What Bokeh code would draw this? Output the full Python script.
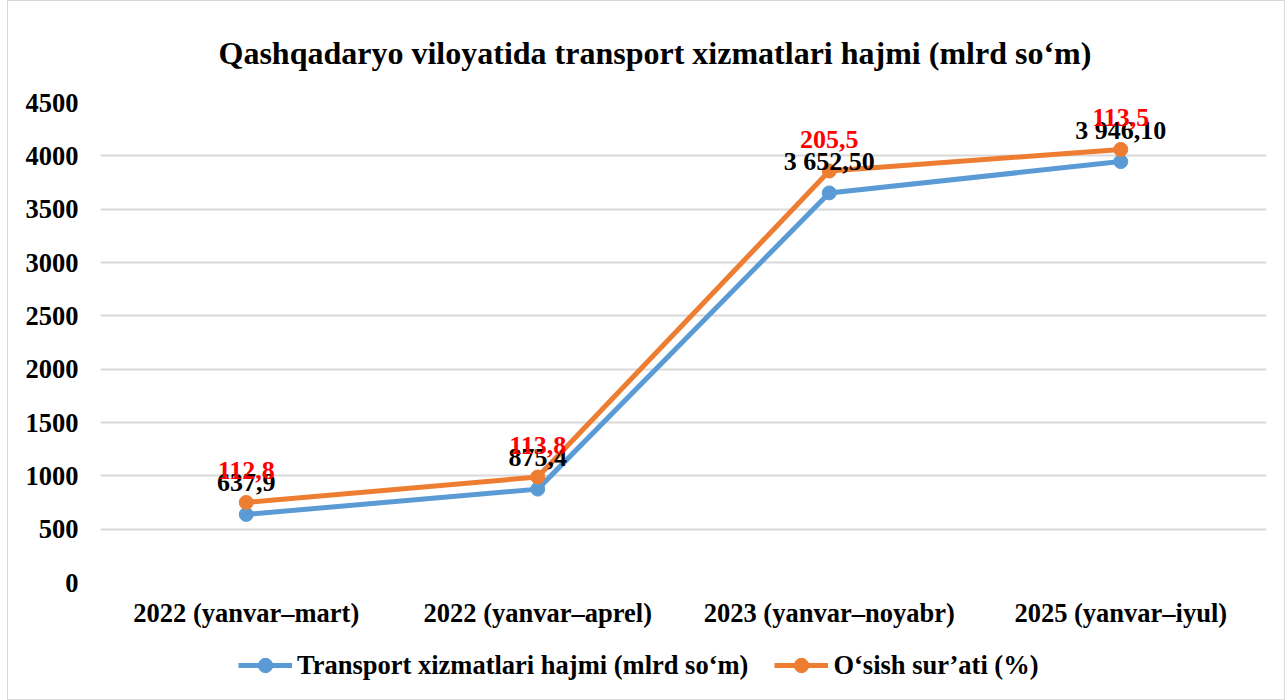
from bokeh.plotting import figure
from bokeh.layouts import column
from bokeh.models import ColumnDataSource, LabelSet, Legend, LegendItem, Range1d, FactorRange, SingleIntervalTicker, Title
from bokeh.embed import file_html
from bokeh.resources import INLINE

categories = ["2022 (yanvar–mart)", "2022 (yanvar–aprel)", "2023 (yanvar–noyabr)", "2025 (yanvar–iyul)"]
transport = [637.9, 875.4, 3652.5, 3946.1]
growth = [112.8, 113.8, 205.5, 113.5]
transport_labels = ["637,9", "875,4", "3 652,50", "3 946,10"]
growth_labels = ["112,8", "113,8", "205,5", "113,5"]
series_names = ["Transport xizmatlari hajmi (mlrd so‘m)", "O‘sish sur’ati (%)"]

# stacked line chart: second series drawn on top of the first
stacked = [t + g for t, g in zip(transport, growth)]

FONT = "Liberation Serif"
BLUE = "#5b9bd5"
ORANGE = "#ed7d31"
W = 1276

src = ColumnDataSource(dict(x=categories, t=transport, s=stacked, tl=transport_labels, gl=growth_labels))

p = figure(width=W, height=629, x_range=FactorRange(*categories),
           y_range=Range1d(0, 4500), output_backend="svg", toolbar_location=None,
           min_border_left=92, min_border_right=18, min_border_top=101, min_border_bottom=48)
p.x_range.factor_padding = 0
p.x_range.range_padding = 0

t = Title(text="Qashqadaryo viloyatida transport xizmatlari hajmi (mlrd so‘m)", align="left", offset=118,
          text_font=FONT, text_font_size="32px", text_font_style="bold", text_color="#000000",
          standoff=63)
p.add_layout(t, "above")

p.outline_line_color = None
p.xgrid.grid_line_color = None
p.ygrid.grid_line_color = "#d9d9d9"
p.ygrid.grid_line_width = 2
p.yaxis.ticker = SingleIntervalTicker(interval=500)
for ax in (p.xaxis, p.yaxis):
    ax.axis_line_color = None
    ax.major_tick_line_color = None
    ax.minor_tick_line_color = None
    ax.major_tick_out = 0
    ax.major_tick_in = 0
    ax.minor_tick_out = 0
    ax.major_label_text_font = FONT
    ax.major_label_text_font_size = "26.5px"
    ax.major_label_text_font_style = "bold"
    ax.major_label_text_color = "#000000"
p.yaxis.major_label_standoff = 22
p.xaxis.major_label_standoff = 15

p.line("x", "t", source=src, line_color=BLUE, line_width=5)
p.scatter("x", "t", source=src, size=14, fill_color=BLUE, line_color=BLUE)
p.line("x", "s", source=src, line_color=ORANGE, line_width=5)
p.scatter("x", "s", source=src, size=14, fill_color=ORANGE, line_color=ORANGE)

lab1 = LabelSet(x="x", y="t", text="tl", source=src, text_align="center", text_baseline="alphabetic",
                y_offset=23, text_font=FONT, text_font_size="26px", text_font_style="bold", text_color="#000000")
lab2 = LabelSet(x="x", y="s", text="gl", source=src, text_align="center", text_baseline="alphabetic",
                y_offset=23, text_font=FONT, text_font_size="26px", text_font_style="bold", text_color="#ff0000")
p.add_layout(lab1)
p.add_layout(lab2)

# legend strip below the chart (its lines lie outside its visible range; only the legend shows)
lg = figure(width=W, height=69, x_range=FactorRange(*categories), y_range=Range1d(-2, -1),
            output_backend="svg", toolbar_location=None, min_border=0,
            x_axis_location=None, y_axis_location=None)
lg.grid.visible = False
lg.outline_line_color = None
r1 = lg.line("x", "t", source=src, line_color=BLUE, line_width=5)
m1 = lg.scatter("x", "t", source=src, fill_color=BLUE, line_color=BLUE)
r2 = lg.line("x", "s", source=src, line_color=ORANGE, line_width=5)
m2 = lg.scatter("x", "s", source=src, fill_color=ORANGE, line_color=ORANGE)
legend = Legend(items=[LegendItem(label=series_names[0], renderers=[r1, m1]),
                       LegendItem(label=series_names[1], renderers=[r2, m2])],
                orientation="horizontal", location=(138, 16), border_line_color=None,
                background_fill_alpha=0,
                label_text_font=FONT, label_text_font_size="26.5px", label_text_font_style="bold",
                label_text_color="#000000", glyph_width=54, glyph_height=36, label_standoff=5,
                spacing=26, margin=0, padding=0)
lg.add_layout(legend)

layout = column(p, lg, spacing=0)
layout.styles = {"border": "1px solid #d9d9d9", "margin-left": "7px"}

open("out.html", "w").write(file_html(layout, INLINE))
